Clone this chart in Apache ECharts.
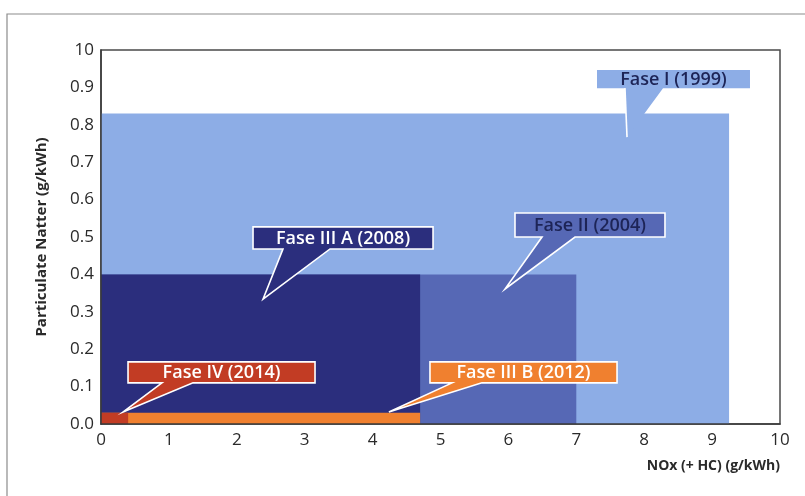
<!DOCTYPE html>
<html><head><meta charset="utf-8">
<script src="https://cdn.jsdelivr.net/npm/echarts@6/dist/echarts.min.js"></script>
<style>html,body{margin:0;padding:0;background:#fff}#c{width:805px;height:496px}</style>
</head><body><div id="c"></div>
<script>
// ---- data ----
const phases = ['Fase I (1999)', 'Fase II (2004)', 'Fase III A (2008)', 'Fase III B (2012)', 'Fase IV (2014)'];
const noxLimits = [9.25, 7.0, 4.7, 4.7, 0.4];
const pmLimits = [0.83, 0.40, 0.40, 0.03, 0.03];
const xTickLabels = ['0', '1', '2', '3', '4', '5', '6', '7', '8', '9', '10'];
const yTickLabels = ['0.0', '0.1', '0.2', '0.3', '0.4', '0.5', '0.6', '0.7', '0.8', '0.9', '10'];

// ---- styles / layout ----
const colors = ['#8dade6', '#5668b5', '#2b2e7d', '#f0802f', '#c23c24'];
const textColors = ['#1d2456', '#1d2456', '#ffffff', '#ffffff', '#ffffff'];
// callout layout in data units: box [x0, yTop, x1, yBottom], base [xa, xb], tip [x, y]
const callouts = [
  { box: [7.305, 0.9465, 9.558, 0.898], base: [7.717, 8.277], tip: [7.747, 0.767], border: false },
  { box: [6.097, 0.564, 8.306, 0.500], base: [6.495, 6.981], tip: [5.95, 0.361], border: true },
  { box: [2.239, 0.527, 4.890, 0.468], base: [2.68, 3.373], tip: [2.386, 0.334], border: true },
  { box: [4.845, 0.166, 7.600, 0.110], base: [5.17, 5.61], tip: [4.24, 0.032], border: true },
  { box: [0.398, 0.166, 3.152, 0.110], base: [0.898, 1.355], tip: [0.324, 0.032], border: true }
];
const FONT = "'Open Sans', 'Noto Sans', sans-serif";

const chart = echarts.init(document.getElementById('c'), null, { renderer: 'canvas' });

function renderRect(params, api) {
  const i = params.dataIndex;
  const tl = api.coord([0, pmLimits[i]]);
  const br = api.coord([noxLimits[i], 0]);
  return {
    type: 'rect',
    shape: { x: tl[0], y: tl[1], width: br[0] - tl[0], height: br[1] - tl[1] },
    style: { fill: colors[i] }
  };
}

function renderCallout(params, api) {
  const i = params.dataIndex;
  const c = callouts[i];
  const p0 = api.coord([c.box[0], c.box[1]]);
  const p1 = api.coord([c.box[2], c.box[3]]);
  const ba = api.coord([c.base[0], c.box[3]]);
  const bb = api.coord([c.base[1], c.box[3]]);
  const t = api.coord(c.tip);
  const pts = [[p0[0], p0[1]], [p1[0], p0[1]], [p1[0], p1[1]], [bb[0], p1[1]], [t[0], t[1]], [ba[0], p1[1]], [p0[0], p1[1]]];
  const children = [{
    type: 'polygon',
    shape: { points: pts },
    style: { fill: colors[i], stroke: c.border ? '#ffffff' : null, lineWidth: 1.6, lineJoin: 'miter' }
  }];
  if (!c.border) {
    children.push({
      type: 'line',
      shape: { x1: t[0], y1: t[1], x2: ba[0], y2: p1[1] },
      style: { stroke: '#ffffff', lineWidth: 1.6 }
    });
  }
  children.push({
    type: 'text',
    style: {
      text: phases[i], x: (p0[0] + p1[0]) / 2, y: (p0[1] + p1[1]) / 2 + 0.5,
      fill: textColors[i], font: '600 18px ' + FONT, align: 'center', verticalAlign: 'middle'
    }
  });
  return { type: 'group', children: children };
}

const option = {
  animation: false,
  backgroundColor: '#ffffff',
  graphic: [{
    type: 'rect', shape: { x: 7, y: 14, width: 830, height: 520 },
    style: { fill: null, stroke: '#8c8c8c', lineWidth: 1.2 }, z: -1, silent: true
  }],
  grid: { left: 101, right: 25, top: 50, bottom: 72, show: true, borderColor: '#4a4a4a', borderWidth: 1.5, backgroundColor: 'transparent' },
  xAxis: {
    type: 'value', min: 0, max: 10, interval: 1, z: 10,
    name: 'NOx (+ HC) (g/kWh)', nameLocation: 'end', nameGap: 0,
    nameTextStyle: { fontFamily: FONT, fontWeight: 'bold', fontSize: 14, color: '#2a2a2a', align: 'right', verticalAlign: 'top', padding: [35, 0, 0, 0] },
    axisLine: { show: true, lineStyle: { color: '#3a3a3a', width: 1.5 } },
    axisTick: { show: false },
    splitLine: { show: false },
    axisLabel: { fontFamily: FONT, fontSize: 17, color: '#2a2a2a', margin: 8, formatter: v => xTickLabels[Math.round(v)] }
  },
  yAxis: {
    type: 'value', min: 0, max: 1, interval: 0.1, z: 10,
    name: 'Particulate Natter (g/kWh)', nameLocation: 'middle', nameGap: 52, nameRotate: 90,
    nameTextStyle: { fontFamily: FONT, fontWeight: 'bold', fontSize: 15, color: '#2a2a2a' },
    axisLine: { show: true, lineStyle: { color: '#3a3a3a', width: 1.5 } },
    axisTick: { show: false },
    splitLine: { show: false },
    axisLabel: { fontFamily: FONT, fontSize: 17, color: '#2a2a2a', margin: 7, formatter: v => yTickLabels[Math.round(v * 10)] }
  },
  series: [
    {
      type: 'custom', z: 2, renderItem: renderRect, clip: false,
      encode: { x: [0], y: [1] },
      data: phases.map((n, i) => ({ name: n, value: [noxLimits[i], pmLimits[i]] }))
    },
    {
      type: 'custom', z: 20, renderItem: renderCallout, clip: false,
      encode: { x: [0], y: [1] },
      data: phases.map((n, i) => ({ name: n, value: [noxLimits[i], pmLimits[i]] }))
    }
  ]
};
chart.setOption(option);
</script>
</body></html>
